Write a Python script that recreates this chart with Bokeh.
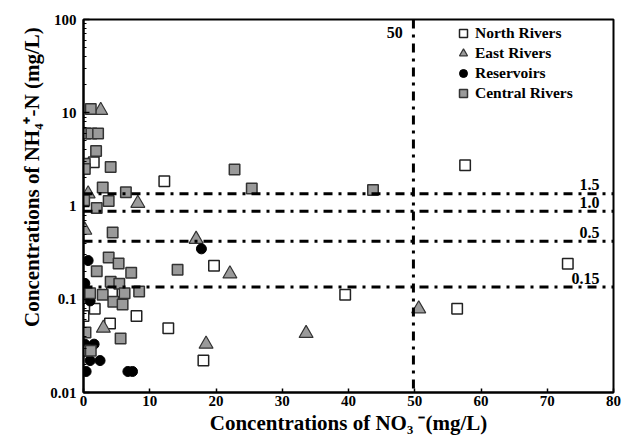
import math
from bokeh.plotting import figure
from bokeh.models import Span, Legend, LegendItem, CustomJSTickFormatter, LogTicker, Range1d, FixedTicker
from bokeh.core.properties import value
from bokeh.embed import file_html
from bokeh.resources import INLINE

# ---- data ----
north_x = [57.6, 12.2, 1.55, 73.1, 19.7, 39.5, 56.4, 1.7, 0.0, 8.0, 4.0, 12.8, 18.1, 0.0, 4.3]
north_y = [2.73, 1.84, 2.95, 0.24, 0.228, 0.112, 0.079, 0.079, 0.066, 0.066, 0.055, 0.049, 0.022, 0.028, 0.118]

east_x = [2.6, 0.7, 8.2, 0.2, 17.0, 22.1, 3.0, 18.5, 33.6, 50.6]
east_y = [10.6, 1.35, 1.07, 0.55, 0.44, 0.187, 0.049, 0.033, 0.043, 0.079]

res_x = [17.8, 0.7, 0.2, 1.0, 0.2, 1.6, 1.0, 2.5, 0.4, 6.7, 7.4]
res_y = [0.347, 0.26, 0.148, 0.096, 0.033, 0.033, 0.022, 0.022, 0.0168, 0.0168, 0.0168]

central_x = [1.1, 0.3, 1.2, 2.2, 1.9, 0.2, 0.2, 4.1, 22.8, 2.9, 6.4, 25.4, 43.7, 0.1,
             3.8, 2.0, 4.4, 3.8, 5.3, 2.0, 7.2, 14.2, 4.1, 5.4, 1.0, 2.9, 6.2, 8.4,
             4.5, 5.9, 0.3, 5.6, 0.3, 1.1]
central_y = [11.0, 6.0, 6.0, 6.0, 3.9, 2.83, 2.5, 2.62, 2.47, 1.58, 1.4, 1.54, 1.48, 1.15,
             1.13, 0.95, 0.52, 0.28, 0.242, 0.2, 0.192, 0.207, 0.154, 0.147, 0.116, 0.112, 0.116, 0.121,
             0.094, 0.088, 0.044, 0.038, 0.028, 0.028]

series_names = ["North Rivers", "East Rivers", "Reservoirs", "Central Rivers"]

hline_vals = [1.35, 0.88, 0.42, 0.135]
hline_labels = ["1.5", "1.0", "0.5", "0.15"]
vline_val = 49.8
vline_label = "50"

x_ticks = [0, 10, 20, 30, 40, 50, 60, 70, 80]

FONT = "Liberation Serif"

p = figure(width=623, height=443, output_backend="svg", toolbar_location=None,
           x_range=Range1d(0, 80), y_range=Range1d(0.01, 100), y_axis_type="log",
           min_border_left=83, min_border_right=10, min_border_top=19, min_border_bottom=51)
p.grid.visible = False
p.outline_line_color = "black"
p.outline_line_width = 2
p.background_fill_color = "white"
p.border_fill_color = "white"

# reference lines
for v in hline_vals:
    p.add_layout(Span(location=v, dimension="width", line_color="black",
                      line_width=3, line_dash="9 6 3 6"))
p.add_layout(Span(location=vline_val, dimension="height", line_color="black",
                  line_width=3, line_dash="9 6 3 6"))

r_north = p.scatter(north_x, north_y, marker="square", size=10.5, fill_color="white",
                    line_color="#222222", line_width=1.5)
r_east = p.scatter(east_x, east_y, marker="triangle", size=14, fill_color="#9a9a9a",
                   line_color="#333333", line_width=1.2)
r_res = p.scatter(res_x, res_y, marker="circle", size=10, fill_color="black",
                  line_color="black", line_width=1)
r_cent = p.scatter(central_x, central_y, marker="square", size=10.5, fill_color="#9a9a9a",
                   line_color="#333333", line_width=1.5)

# line labels
p.text(x=[77.9] * len(hline_vals), y=[v * 1.25 for v in hline_vals], text=hline_labels,
       text_align="right", text_baseline="middle", text_font=value(FONT),
       text_font_style="bold", text_font_size="16px", text_color="black")
p.text(x=[vline_val - 1.6], y=[72.0], text=[vline_label],
       text_align="right", text_baseline="middle", text_font=value(FONT),
       text_font_style="bold", text_font_size="16px", text_color="black")

legend = Legend(items=[LegendItem(label=n, renderers=[r]) for n, r in
                       zip(series_names, [r_north, r_east, r_res, r_cent])],
                location=(370, 289), orientation="vertical")
legend.background_fill_alpha = 0
legend.border_line_color = None
legend.padding = 2
legend.spacing = 0
legend.margin = 0
legend.glyph_width = 20
legend.glyph_height = 20
legend.label_height = 20
legend.label_standoff = 2
legend.label_text_font = FONT
legend.label_text_font_style = "bold"
legend.label_text_font_size = "15.5px"
legend.label_text_color = "black"
p.add_layout(legend)

# axes
for ax in (p.xaxis[0], p.yaxis[0]):
    ax.axis_line_width = 2
    ax.axis_line_color = "black"
    ax.major_tick_line_width = 1.5
    ax.major_tick_line_color = "black"
    ax.minor_tick_line_color = "black"
    ax.major_tick_out = 0
    ax.minor_tick_out = 0
    ax.major_label_text_font = FONT
    ax.major_label_text_font_style = "bold"
    ax.major_label_text_font_size = "15px"
    ax.major_label_text_color = "black"
    ax.axis_label_text_font = FONT
    ax.axis_label_text_font_style = "bold"
    ax.axis_label_text_font_size = "21px"
    ax.axis_label_text_color = "black"

p.xaxis[0].ticker = FixedTicker(ticks=x_ticks)
p.xaxis[0].major_tick_in = 4
p.xaxis[0].minor_tick_in = 0
p.xaxis[0].major_label_standoff = 3
p.xaxis[0].axis_label = "Concentrations of NO\u2083 \u207b(mg/L)"
p.xaxis[0].axis_label_standoff = 2

p.yaxis[0].ticker = LogTicker(num_minor_ticks=10)
p.yaxis[0].formatter = CustomJSTickFormatter(code="return parseFloat(tick.toPrecision(6)).toString();")
p.yaxis[0].major_tick_in = 6
p.yaxis[0].minor_tick_in = 3
p.yaxis[0].minor_tick_line_width = 1
p.yaxis[0].major_label_standoff = 7
p.yaxis[0].axis_label = "\u00a0" * 11 + "Concentrations of NH\u2084\u207a-N (mg/L)"
p.yaxis[0].axis_label_standoff = 3

open("out.html", "w").write(file_html(p, INLINE))
